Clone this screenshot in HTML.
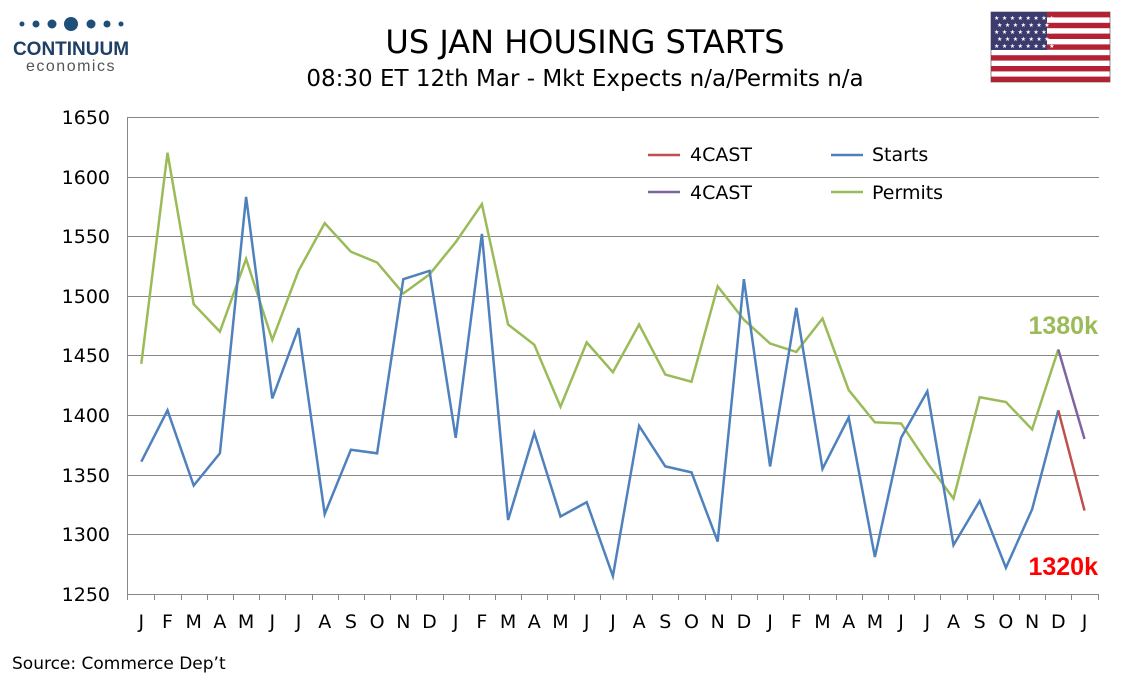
<!DOCTYPE html>
<html><head><meta charset="utf-8"><style>
body{margin:0;background:#fff;width:1134px;height:680px;overflow:hidden;font-family:"DejaVu Sans","Liberation Sans",sans-serif}
</style></head><body>
<svg width="1134" height="680" xmlns="http://www.w3.org/2000/svg" font-family="DejaVu Sans, Liberation Sans, sans-serif">
<rect width="1134" height="680" fill="#fff"/>
<g fill="#1f4e79">
<circle cx="22" cy="24" r="2.5"/><circle cx="36" cy="24" r="3.5"/><circle cx="52" cy="24" r="4.5"/><circle cx="71" cy="24" r="7"/><circle cx="91" cy="24" r="4.5"/><circle cx="107" cy="24" r="3.5"/><circle cx="121" cy="24" r="2.5"/>
</g>
<text x="71" y="55" text-anchor="middle" font-size="19" font-weight="bold" fill="#1f3f66" font-family="Liberation Sans, sans-serif">CONTINUUM</text>
<text x="71" y="71" text-anchor="middle" font-size="16" fill="#555" letter-spacing="1.5" font-family="Liberation Sans, sans-serif">economics</text>
<text x="585" y="53" text-anchor="middle" font-size="32" fill="#000">US JAN HOUSING STARTS</text>
<text x="585" y="86" text-anchor="middle" font-size="23" fill="#000">08:30 ET 12th Mar - Mkt Expects n/a/Permits n/a</text>
<g>
<rect x="991" y="12" width="119" height="70" fill="#fff" stroke="#888"/>
<g fill="#b22234">
<rect x="991" y="12" width="119" height="5.4"/><rect x="991" y="22.8" width="119" height="5.4"/><rect x="991" y="33.6" width="119" height="5.4"/><rect x="991" y="44.4" width="119" height="5.4"/><rect x="991" y="55.2" width="119" height="5.4"/><rect x="991" y="66" width="119" height="5.4"/><rect x="991" y="76.6" width="119" height="5.4"/>
</g>
<rect x="991" y="12" width="56" height="38" fill="#3c3b6e"/>
<g fill="#fff" font-size="6"><text x="994" y="20" letter-spacing="2.5">★★★★★★★★</text><text x="997" y="27" letter-spacing="2.5">★★★★★★★</text><text x="994" y="34" letter-spacing="2.5">★★★★★★★★</text><text x="997" y="41" letter-spacing="2.5">★★★★★★★</text><text x="994" y="48" letter-spacing="2.5">★★★★★★★★</text></g>
</g>
<g stroke="#888" stroke-width="1">
<line x1="127" y1="117.5" x2="1099" y2="117.5"/><line x1="127" y1="177.5" x2="1099" y2="177.5"/><line x1="127" y1="236.5" x2="1099" y2="236.5"/><line x1="127" y1="296.5" x2="1099" y2="296.5"/><line x1="127" y1="355.5" x2="1099" y2="355.5"/><line x1="127" y1="415.5" x2="1099" y2="415.5"/><line x1="127" y1="475.5" x2="1099" y2="475.5"/><line x1="127" y1="534.5" x2="1099" y2="534.5"/><line x1="127" y1="594.5" x2="1099" y2="594.5"/>
<line x1="127.5" y1="117" x2="127.5" y2="600"/>
</g>
<g font-size="19" fill="#000" text-anchor="end">
<text x="110" y="124">1650</text><text x="110" y="184">1600</text><text x="110" y="243">1550</text><text x="110" y="303">1500</text><text x="110" y="362">1450</text><text x="110" y="422">1400</text><text x="110" y="482">1350</text><text x="110" y="541">1300</text><text x="110" y="601">1250</text>
</g>
<g id="xl" font-size="19" fill="#000" text-anchor="middle"></g>
<g id="ticks" stroke="#888"></g>
<polyline id="perm" fill="none" stroke="#9bbb59" stroke-width="2.5"/>
<polyline id="starts" fill="none" stroke="#4f81bd" stroke-width="2.5"/>
<polyline id="fs" fill="none" stroke="#c0504d" stroke-width="2.5"/>
<polyline id="fp" fill="none" stroke="#8064a2" stroke-width="2.5"/>
<line x1="648" y1="155" x2="680" y2="155" stroke="#c0504d" stroke-width="2.5"/><text x="690" y="161" font-size="19">4CAST</text>
<line x1="648" y1="192" x2="680" y2="192" stroke="#8064a2" stroke-width="2.5"/><text x="690" y="199" font-size="19">4CAST</text>
<line x1="831" y1="155" x2="863" y2="155" stroke="#4f81bd" stroke-width="2.5"/><text x="872" y="161" font-size="19">Starts</text>
<line x1="831" y1="192" x2="863" y2="192" stroke="#9bbb59" stroke-width="2.5"/><text x="872" y="199" font-size="19">Permits</text>
<text x="1098" y="334" text-anchor="end" font-size="25" font-weight="bold" fill="#9bbb59" font-family="Liberation Sans, sans-serif">1380k</text>
<text x="1098" y="575" text-anchor="end" font-size="25" font-weight="bold" fill="#ff0000" font-family="Liberation Sans, sans-serif">1320k</text>
<text x="12" y="669" font-size="17">Source: Commerce Dep’t</text>
</svg>
<script>
var S=[1361,1404,1341,1368,1583,1414,1473,1317,1371,1368,1514,1521,1381,1552,1312,1385,1315,1327,1265,1391,1357,1352,1294,1514,1357,1490,1355,1398,1281,1381,1420,1291,1328,1272,1321,1404];
var P=[1443,1620,1493,1470,1531,1463,1521,1561,1537,1528,1502,1518,1545,1577,1476,1459,1407,1461,1436,1476,1434,1428,1508,1480,1460,1453,1481,1421,1394,1393,1360,1330,1415,1411,1388,1455];
var L="JFMAMJJASONDJFMAMJJASONDJFMAMJJASONDJ";
function X(i){return 141.3+i*26.2}function Y(v){return 117+(1650-v)*477/400}
function pts(a,o){return a.map(function(v,i){return X(i+(o||0))+","+Y(v)}).join(" ")}
document.getElementById("starts").setAttribute("points",pts(S));
document.getElementById("perm").setAttribute("points",pts(P));
document.getElementById("fs").setAttribute("points",pts([1404,1320],35));
document.getElementById("fp").setAttribute("points",pts([1455,1380],35));
var ns="http://www.w3.org/2000/svg",g=document.getElementById("xl"),t=document.getElementById("ticks");
for(var i=0;i<37;i++){var e=document.createElementNS(ns,"text");e.setAttribute("x",X(i));e.setAttribute("y",628);e.textContent=L[i];g.appendChild(e);
var l=document.createElementNS(ns,"line");var xx=Math.round(X(i)+13.1)+.5;l.setAttribute("x1",xx);l.setAttribute("x2",xx);l.setAttribute("y1",594);l.setAttribute("y2",600);t.appendChild(l);}
</script>
</body></html>
